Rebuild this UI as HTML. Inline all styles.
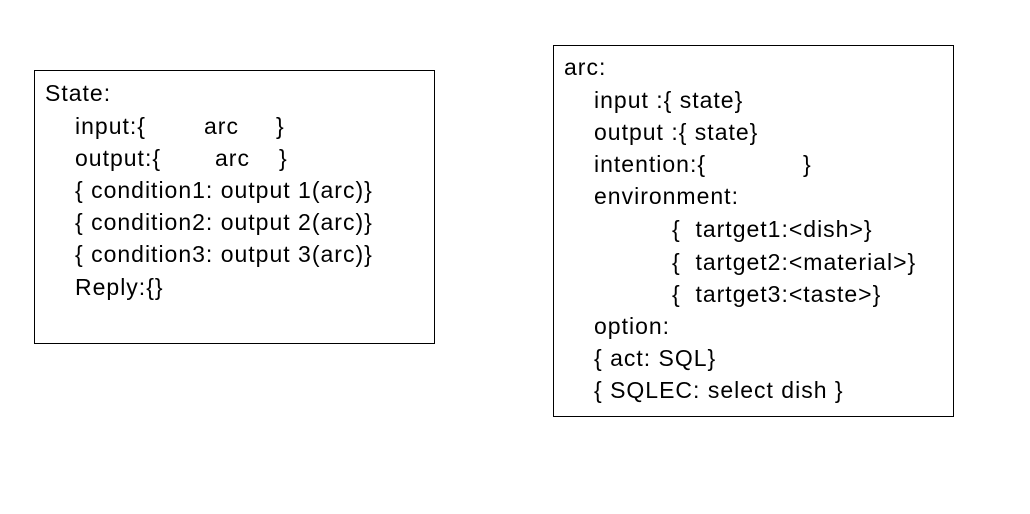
<!DOCTYPE html>
<html><head><style>
body{margin:0;width:1030px;height:514px;background:#fff;position:relative;overflow:hidden;font-family:"Liberation Sans",sans-serif;font-size:23px;letter-spacing:1px;color:#000}
.b{position:absolute;border:1px solid #000;box-sizing:border-box}
.t{position:absolute;white-space:pre;line-height:24px}
</style></head><body>
<div class="b" style="left:34px;top:70px;width:401px;height:274px"></div>
<div class="b" style="left:553px;top:45px;width:401px;height:372px"></div>

<div class="t" style="left:45px;top:81px">State:</div>
<div class="t" style="left:75px;top:114px">input:{</div>
<div class="t" style="left:204px;top:114px">arc</div>
<div class="t" style="left:276px;top:114px">}</div>
<div class="t" style="left:75px;top:146px">output:{</div>
<div class="t" style="left:215px;top:146px">arc</div>
<div class="t" style="left:279px;top:146px">}</div>
<div class="t" style="left:75px;top:178px">{ condition1: output 1(arc)}</div>
<div class="t" style="left:75px;top:210px">{ condition2: output 2(arc)}</div>
<div class="t" style="left:75px;top:242px">{ condition3: output 3(arc)}</div>
<div class="t" style="left:75px;top:275px">Reply:{}</div>

<div class="t" style="left:564px;top:55px">arc:</div>
<div class="t" style="left:594px;top:88px">input :{ state}</div>
<div class="t" style="left:594px;top:120px">output :{ state}</div>
<div class="t" style="left:594px;top:152px">intention:{</div>
<div class="t" style="left:803px;top:152px">}</div>
<div class="t" style="left:594px;top:184px">environment:</div>
<div class="t" style="left:672px;top:217px">{  tartget1:&lt;dish&gt;}</div>
<div class="t" style="left:672px;top:250px">{  tartget2:&lt;material&gt;}</div>
<div class="t" style="left:672px;top:282px">{  tartget3:&lt;taste&gt;}</div>
<div class="t" style="left:594px;top:314px">option:</div>
<div class="t" style="left:594px;top:346px">{ act: SQL}</div>
<div class="t" style="left:594px;top:378px">{ SQLEC: select dish }</div>
</body></html>
